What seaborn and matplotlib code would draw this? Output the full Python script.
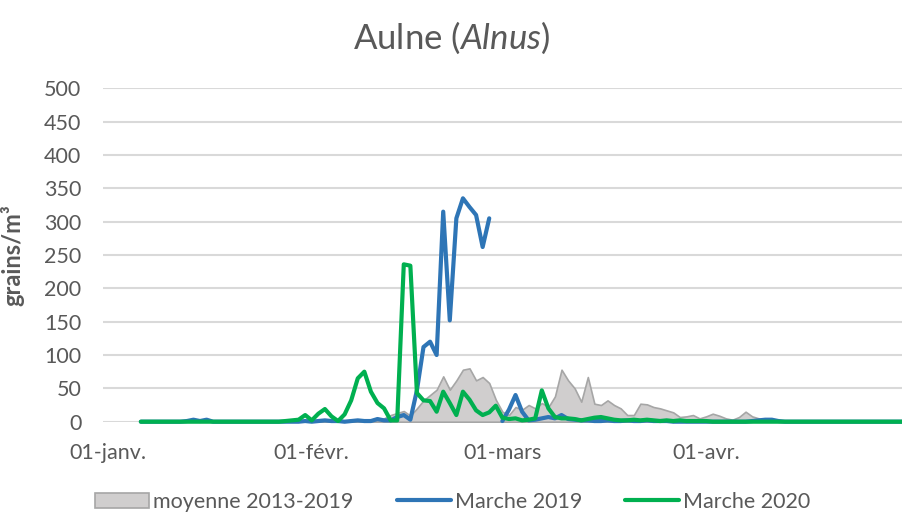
import numpy as np
import pandas as pd
import matplotlib
matplotlib.use("Agg")
import matplotlib.pyplot as plt
import seaborn as sns
from matplotlib.patches import Patch
from matplotlib.lines import Line2D

# ---- data (day index counted from 1 January = 0) ----
jours = list(range(5, 122))

moyenne_2013_2019 = [0]*35 + [
    0, 2, 5, 10, 13, 16, 9, 20, 32, 40,
    48, 68, 48, 62, 78, 80, 62, 67, 58, 33,
    15, 10, 22, 18, 25, 20, 28, 22, 38, 78,
    62, 50, 30, 67, 27, 25, 32, 25, 20, 10,
    10, 27, 26, 22, 20, 17, 14, 7, 8, 10,
    5, 8, 12, 9, 5, 3, 7, 15, 8, 5,
    2] + [0]*21

marche_2019 = [0, 0, 0, 0, 0, 0, 0, 1, 3, 1,
               3, 0, 0, 0, 0, 0, 0, 0, 0, 0,
               0, 0, 0, 0, 0, 1, 0, 1, 2, 1,
               1, 0, 1, 2, 1, 1, 4, 2, 2, 7,
               10, 3, 47, 112, 120, 100, 315, 152, 305, 335,
               322, 310, 262, 305, np.nan, 1, 18, 40, 15, 2,
               3, 5, 7, 5, 10, 4, 3, 2, 2, 1,
               1, 2, 1, 1, 2, 1, 1, 2, 1, 1,
               1, 0, 0, 0, 0, 0, 0, 0, 0, 0,
               0, 0, 0, 1, 2, 3, 3, 1] + [0]*19

marche_2020 = [0]*22 + [
    1, 2, 3, 10, 2, 12, 19, 8, 1, 11,
    32, 65, 75, 45, 28, 20, 2, 2, 236, 234,
    43, 32, 31, 15, 45, 28, 10, 45, 33, 17,
    10, 14, 24, 6, 4, 5, 2, 3, 5, 47,
    20, 7, 5, 5, 4, 2, 4, 6, 7, 5,
    3, 2, 2, 3, 2, 3, 2, 1, 2, 1,
    2, 1, 1, 1, 1] + [0]*30

tick_jours = [0, 31, 60, 91]
tick_labels = ["01-janv.", "01-févr.", "01-mars", "01-avr."]
y_ticks = list(range(0, 501, 50))

df = pd.DataFrame({"jour": jours,
                   "moyenne": moyenne_2013_2019,
                   "m2019": marche_2019,
                   "m2020": marche_2020})
# separate runs of the 2019 series so the missing day leaves a gap
df["seg2019"] = df["m2019"].isna().cumsum()

# ---- style ----
sns.set_theme(style="white")
plt.rcParams["font.family"] = ["Lato", "DejaVu Sans"]
plt.rcParams["mathtext.fontset"] = "custom"
plt.rcParams["mathtext.rm"] = "Lato"
plt.rcParams["mathtext.it"] = "Lato:italic"

TXT = "#595959"
GRID = "#D9D9D9"
C_AREA = "#D0CECE"
C_AREA_EDGE = "#A6A6A6"
C_BLUE = "#2E75B6"
C_GREEN = "#00B050"
FS = 15.5

W, H = 902, 516
fig = plt.figure(figsize=(W/100, H/100), dpi=100)
ax = fig.add_axes([103/W, 1-421.7/H, (902-103)/W, (421.7-88.3)/H])

ax.fill_between(df["jour"], df["moyenne"], 0, facecolor=C_AREA,
                edgecolor=C_AREA_EDGE, linewidth=1.2, zorder=2)
d19 = df.dropna(subset=["m2019"])
sns.lineplot(data=d19, x="jour", y="m2019", units="seg2019", estimator=None,
             color=C_BLUE, linewidth=3.0, ax=ax, zorder=3, clip_on=False)
sns.lineplot(data=df, x="jour", y="m2020", color=C_GREEN, linewidth=3.0,
             ax=ax, zorder=4, clip_on=False)

ax.set_xlim(-0.76, 120.8)
ax.set_ylim(0, 500)
ax.set_yticks(y_ticks)
ax.set_xticks(tick_jours)
ax.set_xticklabels(tick_labels)
ax.yaxis.grid(True, color=GRID, linewidth=1.5, zorder=0)
ax.xaxis.grid(False)
ax.set_axisbelow(True)
for s in ax.spines.values():
    s.set_visible(False)
ax.tick_params(axis="both", length=0, labelsize=FS, labelcolor=TXT)
ax.tick_params(axis="y", pad=15.5)
ax.tick_params(axis="x", pad=15)
ax.set_xlabel("")
ax.set_ylabel("grains/m³", fontsize=17, color=TXT, fontweight="bold")
ax.yaxis.set_label_coords(-0.098, 0.5)

fig.text(452/W, 1-38/H, r"Aulne ($\mathit{Alnus}$)", ha="center", va="center",
         fontsize=25, color=TXT)

handles = [Patch(facecolor=C_AREA, edgecolor=C_AREA_EDGE, linewidth=1.2),
           Line2D([], [], color=C_BLUE, linewidth=3.0),
           Line2D([], [], color=C_GREEN, linewidth=3.0)]
labels = ["moyenne 2013-2019", "Marche 2019", "Marche 2020"]
fig.legend(handles, labels, loc="center", bbox_to_anchor=(453/W, 1-502/H),
           ncol=3, frameon=False, fontsize=FS, labelcolor=TXT,
           handlelength=2.5, handletextpad=0.2, columnspacing=2.0,
           borderpad=0.1)

fig.savefig("out.png", dpi=100)
